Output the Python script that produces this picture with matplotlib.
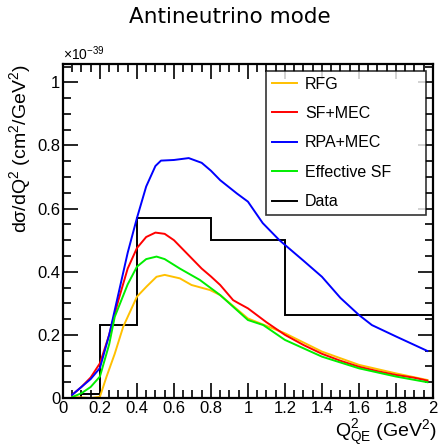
import matplotlib
matplotlib.use("Agg")
import matplotlib.pyplot as plt
from matplotlib.ticker import MultipleLocator

plt.rcParams['font.family'] = ['Liberation Sans', 'DejaVu Sans']
plt.rcParams['mathtext.fontset'] = 'custom'
plt.rcParams['mathtext.rm'] = 'Liberation Sans'
plt.rcParams['mathtext.it'] = 'Liberation Sans'

# Q2_QE (GeV^2) and cross sections in units of 1e-39 cm^2/GeV^2
x_rfg = [0.05, 0.1, 0.15, 0.2, 0.236, 0.28, 0.326, 0.4, 0.452, 0.506, 0.55, 0.632,
         0.695, 0.795, 0.85, 1.0, 1.2, 1.4, 1.6, 1.8, 1.97]
y_rfg = [0.003, 0.002, 0.0, 0.004, 0.068, 0.14, 0.226, 0.321, 0.353, 0.384, 0.39, 0.379,
         0.358, 0.342, 0.326, 0.252, 0.205, 0.147, 0.105, 0.078, 0.057]

x_sf = [0.05, 0.1, 0.15, 0.2, 0.25, 0.3, 0.35, 0.4, 0.45, 0.5, 0.55, 0.6, 0.65, 0.7,
        0.75, 0.8, 0.85, 0.92, 0.95, 1.0, 1.1, 1.2, 1.3, 1.4, 1.5, 1.6, 1.7, 1.8, 1.9, 1.97]
y_sf = [0.01, 0.035, 0.065, 0.11, 0.2, 0.31, 0.41, 0.475, 0.51, 0.524, 0.52, 0.5, 0.47, 0.44,
        0.41, 0.385, 0.358, 0.31, 0.3, 0.284, 0.24, 0.2, 0.168, 0.14, 0.118, 0.099, 0.085,
        0.073, 0.064, 0.055]

x_rpa = [0.05, 0.1, 0.15, 0.2, 0.25, 0.3, 0.35, 0.4, 0.45, 0.5, 0.53, 0.6, 0.68, 0.75,
         0.8, 0.85, 0.94, 1.0, 1.08, 1.17, 1.2, 1.3, 1.4, 1.5, 1.6, 1.67, 1.8, 1.97]
y_rpa = [0.01, 0.035, 0.06, 0.095, 0.2, 0.33, 0.46, 0.57, 0.67, 0.735, 0.752, 0.754, 0.76,
         0.745, 0.72, 0.69, 0.648, 0.622, 0.554, 0.5, 0.485, 0.435, 0.384, 0.317, 0.263,
         0.231, 0.195, 0.149]

x_eff = [0.05, 0.1, 0.15, 0.2, 0.25, 0.28, 0.35, 0.4, 0.45, 0.506, 0.55, 0.632, 0.74,
         0.85, 1.0, 1.083, 1.2, 1.4, 1.6, 1.8, 1.97]
y_eff = [0.003, 0.015, 0.035, 0.068, 0.17, 0.257, 0.36, 0.416, 0.44, 0.448, 0.44, 0.41,
         0.374, 0.326, 0.247, 0.231, 0.184, 0.131, 0.094, 0.068, 0.05]

data_edges = [0.0, 0.1, 0.2, 0.4, 0.8, 1.2, 2.0]
data_vals = [0.0, 0.012, 0.23, 0.57, 0.50, 0.262]

fig = plt.figure(figsize=(4.4, 4.48), dpi=100)
ax = fig.add_axes([0.143, 0.1116, 0.841, 0.7455])

ax.plot(x_rfg, y_rfg, color='#FFC000', lw=1.4, label='RFG')
ax.plot(x_sf, y_sf, color='#FF0000', lw=1.4, label='SF+MEC')
ax.plot(x_rpa, y_rpa, color='#0000FF', lw=1.4, label='RPA+MEC')
ax.plot(x_eff, y_eff, color='#00EE00', lw=1.4, label='Effective SF')
ax.stairs(data_vals, data_edges, color='black', lw=1.4, label='Data')

ax.set_xlim(0, 2)
ax.set_ylim(0, 1.058)
ax.xaxis.set_minor_locator(MultipleLocator(0.05))
ax.yaxis.set_minor_locator(MultipleLocator(0.05))
ax.set_xticks([0, 0.2, 0.4, 0.6, 0.8, 1.0, 1.2, 1.4, 1.6, 1.8, 2.0])
ax.set_xticklabels(['0', '0.2', '0.4', '0.6', '0.8', '1', '1.2', '1.4', '1.6', '1.8', '2'])
ax.set_yticks([0, 0.2, 0.4, 0.6, 0.8, 1.0])
ax.set_yticklabels(['0', '0.2', '0.4', '0.6', '0.8', '1'])
ax.tick_params(which='both', direction='in', top=True, right=True, width=1.2,
               labelsize=12, pad=2)
ax.tick_params(which='major', length=11)
ax.tick_params(which='minor', length=6)
for s in ax.spines.values():
    s.set_linewidth(1.6)

ax.set_ylabel(r'd$\sigma$/dQ$^2$ (cm$^2$/GeV$^2$)', fontsize=14, loc='top')
ax.yaxis.set_label_coords(-0.08, 1.0)
ax.set_xlabel(r'Q$^2_{\mathrm{QE}}$ (GeV$^2$)', fontsize=14, loc='right')
ax.xaxis.set_label_coords(1.012, -0.06)
ax.text(0.0, 1.002, r'$\times$10$^{-39}$', transform=ax.transAxes, fontsize=10,
        ha='left', va='bottom')
fig.suptitle('Antineutrino mode', fontsize=15.5, y=0.985, x=0.522,
             family=['DejaVu Sans'])

leg = ax.legend(loc='upper left', bbox_to_anchor=(0.549, 0.0, 0.432, 0.979),
                mode='expand', borderaxespad=0, fontsize=11.5,
                frameon=True, fancybox=False, edgecolor='black', handlelength=1.6,
                labelspacing=0.9, borderpad=0.35, handletextpad=0.5)
leg.get_frame().set_linewidth(1.2)

fig.savefig('out.png', dpi=100)
